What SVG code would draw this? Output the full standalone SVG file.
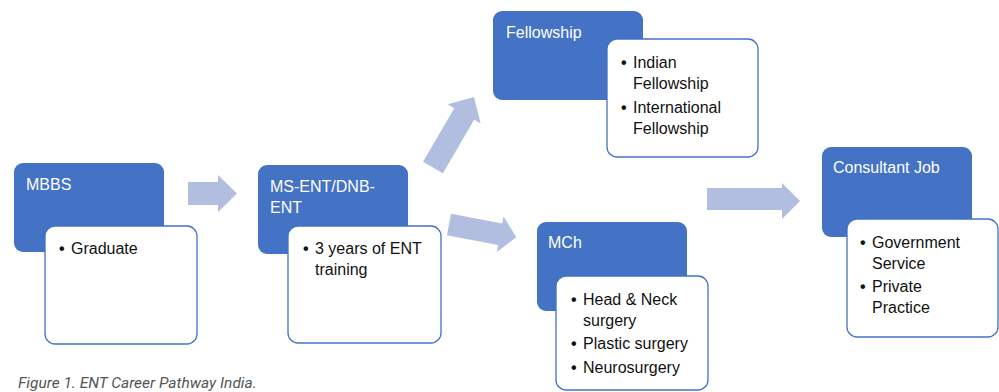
<svg xmlns="http://www.w3.org/2000/svg" width="999" height="392" viewBox="0 0 999 392">
<style>
.hdr{fill:#4472C4}
.det{fill:#FFFFFF;stroke:#4472C4;stroke-width:1.3}
.ht{font-family:"Liberation Sans",Arial,sans-serif;font-size:16px;fill:#FFFFFF}
.bt{font-family:"Liberation Sans",Arial,sans-serif;font-size:16px;fill:#111111}
.bl{font-family:"Liberation Sans",Arial,sans-serif;font-size:16px;font-weight:bold;fill:#111111}
.arr{fill:#B1BEE0}
.cap{font-family:Roboto,"Liberation Sans",sans-serif;font-style:italic;font-size:15.5px;fill:#555555}
</style>
<defs>
<path id="ar" d="M0,-11.5 L62,-11.5 L62,-19 L81.5,0 L62,19 L62,11.5 L0,11.5 Z"/>
</defs>
<rect width="999" height="392" fill="#FFFFFF"/>
<g id="connectors">
<path class="arr" d="M188,182 L218,182 L218,175 L237,193.5 L218,212 L218,205 L188,205 Z"/>
<use href="#ar" class="arr" transform="translate(433,167.5) rotate(-59.8)"/>
<use href="#ar" class="arr" transform="translate(449,224.5) rotate(10.8) scale(0.84,0.95)"/>
<path class="arr" d="M707,188 L782,188 L782,183 L800,201 L782,219 L782,210 L707,210 Z"/>
</g>
<g id="mbbs">
<rect class="hdr" x="14" y="163" width="150" height="89" rx="9"/>
<rect class="det" x="45" y="226" width="152" height="118" rx="10"/>
<text class="ht" x="26" y="190">MBBS</text>
<text class="bl" x="59" y="254">•</text>
<text class="bt" x="71" y="254">Graduate</text>
</g>
<g id="ms-ent">
<rect class="hdr" x="258" y="165" width="150" height="89" rx="9"/>
<rect class="det" x="288" y="226" width="153" height="117" rx="10"/>
<text class="ht" x="270" y="192">MS-ENT/DNB-</text>
<text class="ht" x="270" y="213">ENT</text>
<text class="bl" x="303" y="254">•</text>
<text class="bt" x="315" y="254">3 years of ENT</text>
<text class="bt" x="315" y="275">training</text>
</g>
<g id="fellowship">
<rect class="hdr" x="493" y="11" width="150" height="89" rx="9"/>
<rect class="det" x="607" y="39" width="151" height="118" rx="10"/>
<text class="ht" x="506" y="38">Fellowship</text>
<text class="bl" x="621" y="68">•</text>
<text class="bt" x="633" y="68">Indian</text>
<text class="bt" x="633" y="89">Fellowship</text>
<text class="bl" x="621" y="113">•</text>
<text class="bt" x="633" y="113">International</text>
<text class="bt" x="633" y="134">Fellowship</text>
</g>
<g id="mch">
<rect class="hdr" x="537" y="222" width="150" height="89" rx="9"/>
<rect class="det" x="556" y="276" width="152" height="114" rx="10"/>
<text class="ht" x="548" y="248">MCh</text>
<text class="bl" x="571" y="305">•</text>
<text class="bt" x="583" y="305">Head &amp; Neck</text>
<text class="bt" x="583" y="326">surgery</text>
<text class="bl" x="571" y="349">•</text>
<text class="bt" x="583" y="349">Plastic surgery</text>
<text class="bl" x="571" y="373">•</text>
<text class="bt" x="583" y="373">Neurosurgery</text>
</g>
<g id="consultant">
<rect class="hdr" x="822" y="147" width="150" height="90" rx="9"/>
<rect class="det" x="847" y="219" width="151" height="118" rx="10"/>
<text class="ht" x="833" y="173">Consultant Job</text>
<text class="bl" x="860" y="248">•</text>
<text class="bt" x="872" y="248">Government</text>
<text class="bt" x="872" y="269">Service</text>
<text class="bl" x="860" y="292">•</text>
<text class="bt" x="872" y="292">Private</text>
<text class="bt" x="872" y="313">Practice</text>
</g>
<text class="cap" x="18" y="388">Figure 1. ENT Career Pathway India.</text>
</svg>
